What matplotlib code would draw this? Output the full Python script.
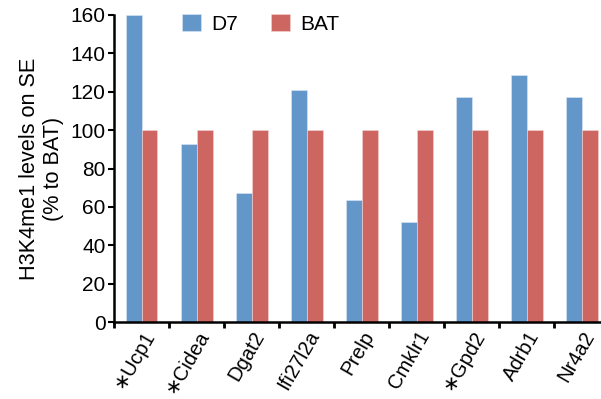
import matplotlib
matplotlib.use("Agg")
import matplotlib.pyplot as plt
import numpy as np

categories = ["\u2217Ucp1", "\u2217Cidea", "Dgat2", "Ifi27l2a", "Prelp", "Cmklr1", "\u2217Gpd2", "Adrb1", "Nr4a2"]
d7 = [160, 92.8, 67.4, 120.8, 63.5, 52.3, 117.4, 128.5, 117.4]
bat = [100, 100, 100, 100, 100, 100, 100, 100, 100]
yticks = [0, 20, 40, 60, 80, 100, 120, 140, 160]

plt.rcParams['font.family'] = ['Liberation Sans', 'DejaVu Sans']

fig = plt.figure(figsize=(6.01, 3.99), dpi=100)
ax = fig.add_axes([114/601, 77/399, 1 - 114/601, 307/399])

x = np.arange(len(categories))
w = 0.29
blue = '#6497C9'
red = '#CD6561'
ax.bar(x - w/2, d7, width=w, color=blue, edgecolor='#dce8f4', linewidth=0.4, label='D7')
ax.bar(x + w/2, bat, width=w, color=red, edgecolor='#f2d6d5', linewidth=0.4, label='BAT')

ax.set_ylim(0, 160)
ax.set_xlim(-0.5, 8.35)
ax.set_yticks(yticks)
ax.set_yticklabels([str(v) for v in yticks], fontsize=15)
ax.set_xticks(np.arange(-0.5, 8.5, 1.0))
ax.set_xticklabels([])
ax.set_xticks(x, minor=True)
ax.set_xticklabels(categories, minor=True, rotation=60, ha='right', va='top',
                   rotation_mode='anchor', fontsize=14.5)
ax.tick_params(axis='x', which='minor', length=0, pad=4)
ax.tick_params(axis='x', which='major', length=4, width=2, direction='out')
ax.tick_params(axis='y', length=4, width=1.5, direction='out', pad=2)

for s in ['top', 'right']:
    ax.spines[s].set_visible(False)
ax.spines['left'].set_linewidth(1.8)
ax.spines['bottom'].set_linewidth(1.8)

ax.set_ylabel("H3K4me1 levels on SE\n(% to BAT)", fontsize=15.6, linespacing=1.15, labelpad=5)

ax.legend(loc='upper center', bbox_to_anchor=(0.301, 1.065), ncol=2, frameon=False, fontsize=15,
          handlelength=0.9, handleheight=0.9, columnspacing=1.6, handletextpad=0.5)

fig.savefig("out.png", dpi=100)
